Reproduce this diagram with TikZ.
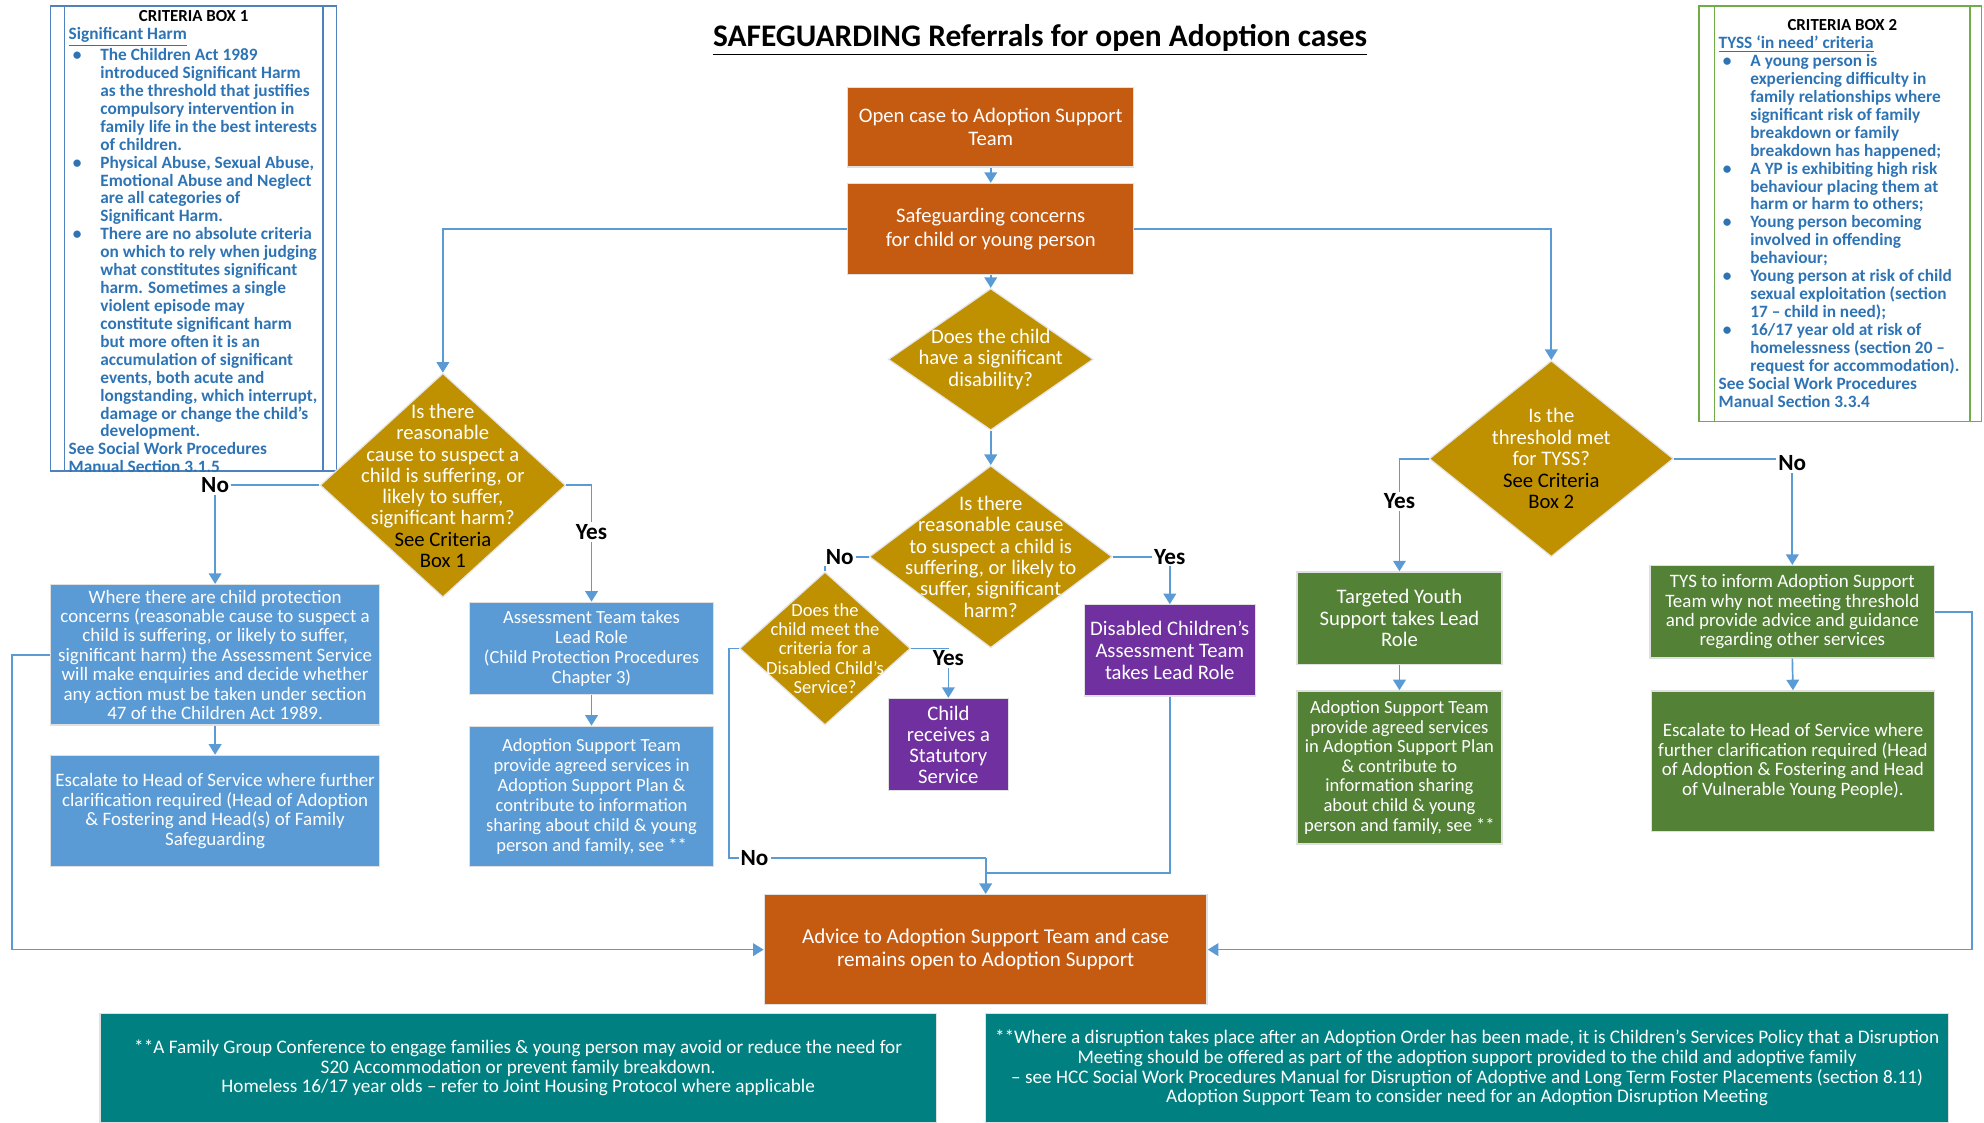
\documentclass[tikz,border=0pt]{standalone}
\usepackage{fontspec}
\setmainfont{Carlito}
\usepackage{xcolor}
\usetikzlibrary{shapes.geometric,arrows.meta}

\definecolor{orangeA}{HTML}{C55A11}
\definecolor{goldA}{HTML}{BF9000}
\definecolor{blueA}{HTML}{5B9BD5}
\definecolor{purpleA}{HTML}{7030A0}
\definecolor{greenA}{HTML}{538135}
\definecolor{tealA}{HTML}{008080}
\definecolor{lineA}{HTML}{5B9BD5}
\definecolor{critText}{HTML}{2E74B5}
\definecolor{critOne}{HTML}{4F81BD}
\definecolor{critTwo}{HTML}{70AD47}

\newcommand{\critbul}{\hspace*{2pt}\makebox[13pt][l]{\textbullet}}
\newcommand{\critind}{\hspace*{15pt}}

\begin{document}
\begin{tikzpicture}[x=0.6pt,y=0.6pt,yscale=-1,xscale=1,
  box/.style={rectangle, draw=black!12, line width=0.6pt, text=white, align=center, inner sep=1pt},
  obox/.style={box, fill=orangeA},
  bbox/.style={box, fill=blueA},
  pbox/.style={box, fill=purpleA},
  gbox/.style={box, fill=greenA},
  tbox/.style={box, fill=tealA},
  dia/.style={diamond, fill=goldA, draw=black!10, line width=0.6pt, inner sep=0pt},
  diatext/.style={text=white, align=center, inner sep=0pt},
  conn/.style={draw=lineA, line width=0.8pt},
  arr/.style={conn, -{Triangle[width=6pt,length=5pt]}},
  lbl/.style={fill=white, inner sep=1pt, font=\fontsize{11}{12}\selectfont\bfseries},
  crit/.style={text=critText, align=left, inner sep=0pt, anchor=north west, font=\fontsize{8.2}{8.5}\selectfont\bfseries},
  crittitle/.style={text=black, inner sep=0pt, font=\fontsize{8}{8.5}\selectfont\bfseries}
]
%set diagram size
\useasboundingbox (0,0) rectangle (1568,887);

% Text Node
\node[inner sep=0pt, font=\fontsize{14.9}{16}\selectfont\bfseries] (title) at (822,32) {\underline{SAFEGUARDING Referrals for open Adoption cases}};

%Shape: Criteria box 1
\draw[critOne, line width=0.8pt] (40,5) rectangle (266,372);
\draw[critOne, line width=0.8pt] (51,5) -- (51,372);
\draw[critOne, line width=0.8pt] (255,5) -- (255,372);
% Text Node
\node[crittitle] (c1title) at (153,13) {CRITERIA BOX 1};
% Text Node
\node[crit] (c1body) at (54,21) {\underline{Significant Harm}\\
\critbul The Children Act 1989\\
\critind introduced Significant Harm\\
\critind as the threshold that justifies\\
\critind compulsory intervention in\\
\critind family life in the best interests\\
\critind of children.\\
\critbul Physical Abuse, Sexual Abuse,\\
\critind Emotional Abuse and Neglect\\
\critind are all categories of\\
\critind Significant Harm.\\
\critbul There are no absolute criteria\\
\critind on which to rely when judging\\
\critind what constitutes significant\\
\critind harm. Sometimes a single\\
\critind violent episode may\\
\critind constitute significant harm\\
\critind but more often it is an\\
\critind accumulation of significant\\
\critind events, both acute and\\
\critind longstanding, which interrupt,\\
\critind damage or change the child's\\
\critind development.\\
See Social Work Procedures\\
Manual Section 3.1.5};

%Shape: Criteria box 2
\draw[critTwo, line width=0.8pt] (1343,5) rectangle (1566,333);
\draw[critTwo, line width=0.8pt] (1355,5) -- (1355,333);
\draw[critTwo, line width=0.8pt] (1557,5) -- (1557,333);
% Text Node
\node[crittitle] (c2title) at (1456,20) {CRITERIA BOX 2};
% Text Node
\node[crit] (c2body) at (1358,28) {\underline{TYSS ‘in need’ criteria}\\
\critbul A young person is\\
\critind experiencing difficulty in\\
\critind family relationships where\\
\critind significant risk of family\\
\critind breakdown or family\\
\critind breakdown has happened;\\
\critbul A YP is exhibiting high risk\\
\critind behaviour placing them at\\
\critind harm or harm to others;\\
\critbul Young person becoming\\
\critind involved in offending\\
\critind behaviour;\\
\critbul Young person at risk of child\\
\critind sexual exploitation (section\\
\critind 17 – child in need);\\
\critbul 16/17 year old at risk of\\
\critind homelessness (section 20 –\\
\critind request for accommodation).\\
See Social Work Procedures\\
Manual Section 3.3.4};

%Shape: Rectangle (orange)
\node[obox, minimum width=135.6pt, minimum height=37.8pt, font=\fontsize{9.8}{11}\selectfont] (opn) at (783,100.5) {Open case to Adoption Support\\Team};
\node[obox, minimum width=135.6pt, minimum height=43.2pt, font=\fontsize{9.8}{11}\selectfont] (safe) at (783,181) {Safeguarding concerns\\for child or young person};

%Shape: Diamond
\node[dia, minimum width=97.2pt, minimum height=67.2pt] (d1) at (783,284) {};
\node[diatext, font=\fontsize{9.8}{10.2}\selectfont] (d1t) at (783,284) {Does the child\\have a significant\\disability?};
\node[dia, minimum width=115.2pt, minimum height=86.4pt] (d2) at (783,440) {};
\node[diatext, font=\fontsize{9.8}{10.1}\selectfont] (d2t) at (783,440) {Is there\\reasonable cause\\to suspect a child is\\suffering, or likely to\\suffer, significant\\harm?};
\node[dia, minimum width=116.4pt, minimum height=106.2pt] (dl) at (350,383.5) {};
\node[diatext, font=\fontsize{9.8}{10.1}\selectfont] (dlt) at (350,384) {Is there\\reasonable\\cause to suspect a\\child is suffering, or\\likely to suffer,\\significant harm?\\\textcolor{black}{See Criteria}\\\textcolor{black}{Box 1}};
\node[dia, minimum width=81pt, minimum height=72.6pt] (d3) at (652,512.5) {};
\node[diatext, font=\fontsize{8.8}{9.15}\selectfont] (d3t) at (652,512.5) {Does the\\child meet the\\criteria for a\\Disabled Child’s\\Service?};
\node[dia, minimum width=115.8pt, minimum height=93pt] (dr) at (1226,362.5) {};
\node[diatext, font=\fontsize{9.8}{10.2}\selectfont] (drt) at (1226,362.5) {Is the\\threshold met\\for TYSS?\\\textcolor{black}{See Criteria}\\\textcolor{black}{Box 2}};

%Shape: Rectangle (blue)
\node[bbox, minimum width=156pt, minimum height=66.6pt, font=\fontsize{9}{9.2}\selectfont] (l1) at (170,517.5) {Where there are child protection\\concerns (reasonable cause to suspect a\\child is suffering, or likely to suffer,\\significant harm) the Assessment Service\\will make enquiries and decide whether\\any action must be taken under section\\47 of the Children Act 1989.};
\node[bbox, minimum width=156pt, minimum height=52.8pt, font=\fontsize{9}{9.4}\selectfont] (l2) at (170,641) {Escalate to Head of Service where further\\clarification required (Head of Adoption\\\& Fostering and Head(s) of Family\\Safeguarding};
\node[bbox, minimum width=115.8pt, minimum height=43.8pt, font=\fontsize{8.8}{9.4}\selectfont] (m1) at (467.5,512.5) {Assessment Team takes\\Lead Role\\(Child Protection Procedures\\Chapter 3)};
\node[bbox, minimum width=115.8pt, minimum height=66.6pt, font=\fontsize{8.8}{9.4}\selectfont] (m2) at (467.5,629.5) {Adoption Support Team\\provide agreed services in\\Adoption Support Plan \&\\contribute to information\\sharing about child \& young\\person and family, see **};

%Shape: Rectangle (purple)
\node[pbox, minimum width=57pt, minimum height=43.8pt, font=\fontsize{9.8}{10}\selectfont] (p1) at (749.5,588.5) {Child\\receives a\\Statutory\\Service};
\node[pbox, minimum width=81pt, minimum height=43.2pt, font=\fontsize{9.8}{10.5}\selectfont] (p2) at (924.5,514) {Disabled Children’s\\Assessment Team\\takes Lead Role};

%Shape: Rectangle (orange)
\node[obox, minimum width=210pt, minimum height=52.2pt, font=\fontsize{10}{10.8}\selectfont] (adv) at (779,750.5) {Advice to Adoption Support Team and case\\remains open to Adoption Support};

%Shape: Rectangle (green)
\node[gbox, minimum width=97.2pt, minimum height=43.8pt, font=\fontsize{9.8}{10.2}\selectfont] (g1) at (1106,488.5) {Targeted Youth\\Support takes Lead\\Role};
\node[gbox, minimum width=97.2pt, minimum height=72.6pt, font=\fontsize{8.8}{9.3}\selectfont] (g2) at (1106,606.5) {Adoption Support Team\\provide agreed services\\in Adoption Support Plan\\\& contribute to\\information sharing\\about child \& young\\person and family, see **};
\node[gbox, minimum width=135pt, minimum height=43.8pt, font=\fontsize{9}{9.2}\selectfont] (g3) at (1416.5,483.5) {TYS to inform Adoption Support\\Team why not meeting threshold\\and provide advice and guidance\\regarding other services};
\node[gbox, minimum width=134.4pt, minimum height=66.6pt, font=\fontsize{9}{9.2}\selectfont] (g4) at (1417,601.5) {Escalate to Head of Service where\\further clarification required (Head\\of Adoption \& Fostering and Head\\of Vulnerable Young People).};

%Shape: Rectangle (teal)
\node[tbox, minimum width=396.6pt, minimum height=51.6pt, font=\fontsize{9.1}{9.3}\selectfont] (t1) at (409.5,844) {**A Family Group Conference to engage families \& young person may avoid or reduce the need for\\S20 Accommodation or prevent family breakdown.\\Homeless 16/17 year olds – refer to Joint Housing Protocol where applicable};
\node[tbox, minimum width=456.6pt, minimum height=51.6pt, font=\fontsize{9.1}{9.4}\selectfont] (t2) at (1159.5,844) {**Where a disruption takes place after an Adoption Order has been made, it is Children’s Services Policy that a Disruption\\Meeting should be offered as part of the adoption support provided to the child and adoptive family\\– see HCC Social Work Procedures Manual for Disruption of Adoptive and Long Term Foster Placements (section 8.11)\\Adoption Support Team to consider need for an Adoption Disruption Meeting};

%Straight Lines
\draw[arr] (opn.south) -- (safe.north);
\draw[arr] (safe.west) -| (dl.north);
\draw[arr] (safe.east) -| (dr.north);
\draw[arr] (safe.south) -- (d1.north);
\draw[arr] (d1.south) -- (d2.north);
\draw[arr] (dl.west) -| node[lbl, pos=0.5] (no1) {No} (l1.north);
\draw[arr] (dl.east) -| node[lbl, pos=0.7] (yes1) {Yes} (m1.north);
\draw[arr] (l1.south) -- (l2.north);
\draw[arr] (m1.south) -- (m2.north);
\draw[arr] (l1.west) -- ++(-30,0) |- (adv.west);
\draw[conn] (d2.west) -| node[lbl, pos=0.5, anchor=west, xshift=-1pt] (no2) {No} (d3.north);
\draw[arr] (d2.east) -| node[lbl, pos=0.5] (yes2) {Yes} (p2.north);
\draw[arr] (d3.east) -| node[lbl, pos=0.6] (yes3) {Yes} (p1.north);
\coordinate (jn) at (779,678);
\coordinate (jn2) at (779,690);
\draw[conn] (d3.west) -- ++(-8,0) |- node[lbl, pos=0.55] (no3) {No} (jn);
\draw[conn] (p2.south) |- (jn2);
\draw[arr] (jn) -- (adv.north);
\draw[arr] (dr.west) -| node[lbl, pos=0.69] (yes4) {Yes} (g1.north);
\draw[arr] (dr.east) -| node[lbl, pos=0.52] (no4) {No} (g3.north);
\draw[arr] (g1.south) -- (g2.north);
\draw[arr] (g3.south) -- (g4.north);
\draw[arr] (g3.east) -- ++(29,0) |- (adv.east);

\end{tikzpicture}
\end{document}
